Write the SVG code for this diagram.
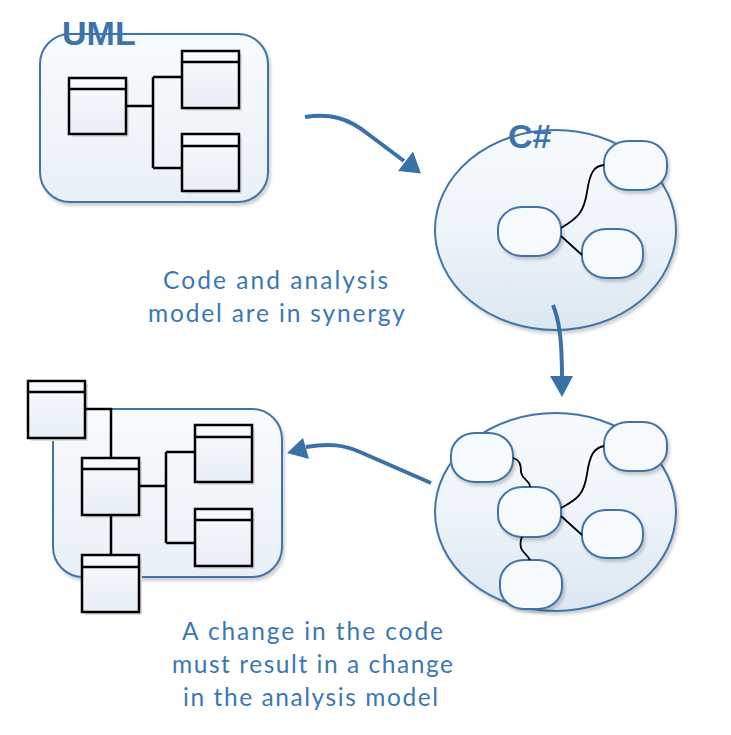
<svg xmlns="http://www.w3.org/2000/svg" width="731" height="735" viewBox="0 0 731 735">
<defs>
<linearGradient id="gCont" x1="0" y1="0" x2="0" y2="1">
<stop offset="0" stop-color="#f8fbfe"/><stop offset="1" stop-color="#e9f0f7"/>
</linearGradient>
<linearGradient id="gEll" x1="0" y1="0" x2="0" y2="1">
<stop offset="0" stop-color="#f7fafd"/><stop offset="0.5" stop-color="#eef4fa"/><stop offset="1" stop-color="#dbe7f2"/>
</linearGradient>
<linearGradient id="gBox" x1="0" y1="0" x2="0" y2="1">
<stop offset="0" stop-color="#f8fbfe"/><stop offset="1" stop-color="#e8eef6"/>
</linearGradient>
<filter id="sh" x="-20%" y="-20%" width="150%" height="150%">
<feDropShadow dx="2" dy="3" stdDeviation="1.5" flood-color="#000" flood-opacity="0.18"/>
</filter>
</defs>
<style>
.cont{fill:url(#gCont);stroke:#4075a9;stroke-width:2;filter:url(#sh)}
.ell{fill:url(#gEll);stroke:#4075a9;stroke-width:2;filter:url(#sh)}
.shape{fill:#f7fafd;stroke:#3f73a6;stroke-width:2;filter:url(#sh)}
.cls{fill:url(#gBox);stroke:#000;stroke-width:2.5}
.clsh{fill:#dcdcdc}
.hdr{stroke:#000;stroke-width:2.5;fill:none}
.wire{stroke:#000;stroke-width:2.5;fill:none}
.link{stroke:#000;stroke-width:1.8;fill:none}
.arr{stroke:#3a72a8;stroke-width:4;fill:none;stroke-linecap:butt}
.head{fill:#3a72a8}
.title{font-family:"Liberation Sans",Arial,sans-serif;font-weight:bold;font-size:34px;fill:#3c74aa}
.cap{font-family:Lato,"Liberation Sans",sans-serif;font-size:24.5px;fill:#3a78b4;text-anchor:middle}
</style>

<g id="uml">
<rect class="cont" x="40" y="34" width="228" height="168" rx="30" ry="30"/>
<text class="title" x="62" y="45">UML</text>
<g id="uml-class1">
<rect class="clsh" x="72" y="81" width="57" height="56"/>
<rect class="cls" x="69" y="78" width="57" height="56"/>
<line class="hdr" x1="69" y1="89" x2="126" y2="89"/>
</g>
<g id="uml-class2">
<rect class="clsh" x="185" y="54" width="57" height="57"/>
<rect class="cls" x="182" y="51" width="57" height="57"/>
<line class="hdr" x1="182" y1="62" x2="239" y2="62"/>
</g>
<g id="uml-class3">
<rect class="clsh" x="185" y="137" width="57" height="57"/>
<rect class="cls" x="182" y="134" width="57" height="57"/>
<line class="hdr" x1="182" y1="146" x2="239" y2="146"/>
</g>
<path class="wire" d="M126,106 H153 M153,77 V168 M153,77 H182 M153,168 H182"/>
</g>

<g id="csharp">
<ellipse class="ell" cx="555.5" cy="230" rx="120.5" ry="100"/>
<text class="title" x="508" y="148">C#</text>
<rect class="shape" x="604" y="141" width="63" height="49" rx="24" ry="22"/>
<rect class="shape" x="498" y="207" width="63" height="49" rx="24" ry="22"/>
<rect class="shape" x="582" y="229" width="61" height="49" rx="24" ry="22"/>
<path class="link" d="M561,228 C578,218 584,212 587,192 C590,172 594,166 604,165"/>
<path class="link" d="M561,236 L582,255"/>
</g>

<g id="csharp2">
<ellipse class="ell" cx="555.5" cy="512" rx="120.5" ry="99"/>
<rect class="shape" x="451" y="433" width="62" height="49" rx="24" ry="22"/>
<rect class="shape" x="604" y="422" width="63" height="49" rx="24" ry="22"/>
<rect class="shape" x="498" y="487" width="63" height="50" rx="24" ry="22"/>
<rect class="shape" x="582" y="510" width="61" height="48" rx="24" ry="22"/>
<rect class="shape" x="500" y="560" width="62" height="49" rx="24" ry="22"/>
<path class="link" d="M513,458 C520,460 521,465 521,472 C522,480 530,480 530,487"/>
<path class="link" d="M561,508 C578,499 584,494 587,474 C590,454 594,448 604,446"/>
<path class="link" d="M561,516 L582,535"/>
<path class="link" d="M522,537 C520,541 520,547 522,550 C525,554 528,556 530,560"/>
</g>

<g id="uml2">
<rect class="cont" x="53" y="409" width="229" height="168" rx="30" ry="30"/>
<g id="uml2-classA">
<rect class="clsh" x="31" y="384" width="57" height="57"/>
<rect class="cls" x="28" y="381" width="57" height="57"/>
<line class="hdr" x1="28" y1="392" x2="85" y2="392"/>
</g>
<g id="uml2-classB">
<rect class="clsh" x="85" y="461" width="57" height="57"/>
<rect class="cls" x="82" y="458" width="57" height="57"/>
<line class="hdr" x1="82" y1="469" x2="139" y2="469"/>
</g>
<g id="uml2-classC">
<rect class="clsh" x="198" y="428" width="57" height="57"/>
<rect class="cls" x="195" y="425" width="57" height="57"/>
<line class="hdr" x1="195" y1="437" x2="252" y2="437"/>
</g>
<g id="uml2-classD">
<rect class="clsh" x="198" y="512" width="57" height="57"/>
<rect class="cls" x="195" y="509" width="57" height="57"/>
<line class="hdr" x1="195" y1="520" x2="252" y2="520"/>
</g>
<g id="uml2-classE">
<rect class="clsh" x="85" y="558" width="57" height="57"/>
<rect class="cls" x="82" y="555" width="57" height="57"/>
<line class="hdr" x1="82" y1="567" x2="139" y2="567"/>
</g>
<path class="wire" d="M85,409 H111 V458 M139,486 H166 M166,452 V543 M166,452 H195 M166,543 H195 M111,515 V555"/>
</g>

<g id="connectors">
<path class="arr" d="M305,117 C330,113 348,118 368,134 L404,161"/>
<polygon class="head" points="398,171 413,151.5 421,173.5"/>
<path class="arr" d="M553,305 C559,320 562,338 562,378"/>
<polygon class="head" points="550,376 573,376 562,397"/>
<path class="arr" d="M431,483 L360,452 C344,445 330,443 306,447"/>
<polygon class="head" points="287,453 303,438 309,459"/>
</g>

<g id="texts">
<text class="cap" x="275.5" y="289" textLength="225" lengthAdjust="spacing">Code and analysis</text>
<text class="cap" x="276.5" y="322" textLength="257" lengthAdjust="spacing">model are in synergy</text>
<text class="cap" x="312.5" y="640" textLength="261" lengthAdjust="spacing">A change in the code</text>
<text class="cap" x="312.5" y="673" textLength="281" lengthAdjust="spacing">must result in a change</text>
<text class="cap" x="310.5" y="706" textLength="255" lengthAdjust="spacing">in the analysis model</text>
</g>
</svg>
